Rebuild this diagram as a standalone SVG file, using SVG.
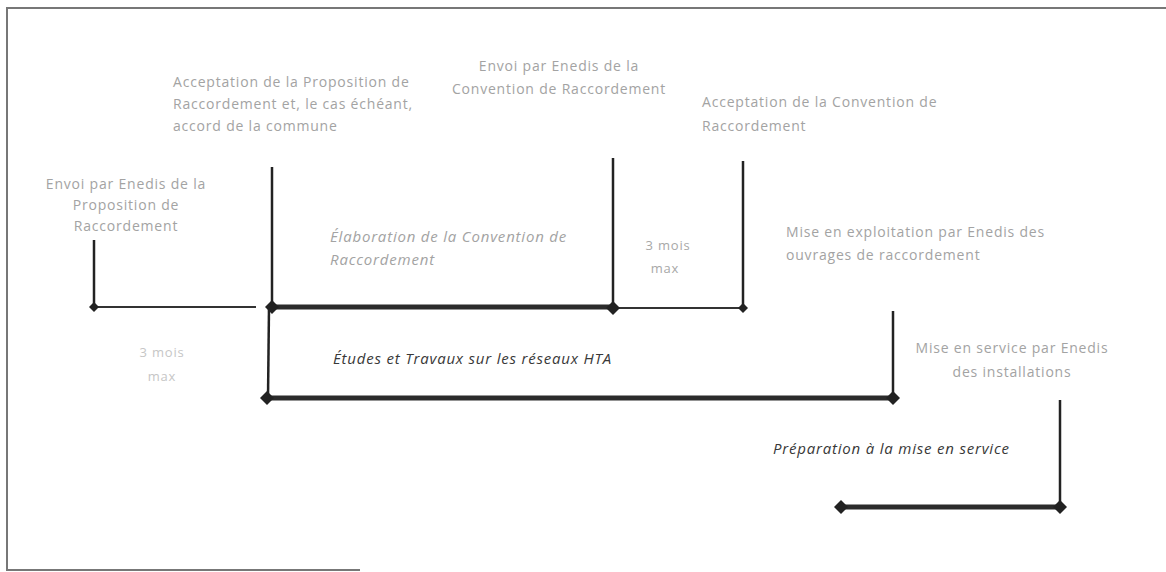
<svg xmlns="http://www.w3.org/2000/svg" width="1166" height="572" viewBox="0 0 1166 572">
<defs>
<style>
.lbl{font-family:"Open Sans","Liberation Sans",sans-serif;font-size:14px;letter-spacing:0.8px;fill:#a3a3a3;}
.sm{font-family:"Open Sans","Liberation Sans",sans-serif;font-size:13px;letter-spacing:0.8px;fill:#a8a8a8;}
.it{font-family:"Open Sans","Liberation Sans",sans-serif;font-size:15px;letter-spacing:0.8px;font-style:italic;fill:#a3a3a3;}
.itd{font-family:"Open Sans","Liberation Sans",sans-serif;font-size:15px;letter-spacing:0.8px;font-style:italic;fill:#383838;}
.thin{stroke:#333;stroke-width:2;fill:none;}
.thick{stroke:#2b2b2b;stroke-width:5;fill:none;}
.vl{stroke:#222;stroke-width:2.5;fill:none;}
.dm{fill:#222;}
</style>
<path id="d" d="M0,-7 L7,0 L0,7 L-7,0 Z"/>
<path id="ds" d="M0,-5 L5,0 L0,5 L-5,0 Z"/>
</defs>
<rect width="1166" height="572" fill="#fff"/>
<g id="frame" stroke="#777" stroke-width="2" fill="none">
<path d="M1166,8 H7 V570 H360"/>
</g>
<g id="connectors">
<line class="vl" x1="94" y1="240" x2="94" y2="307"/>
<line class="thin" x1="94" y1="307" x2="256" y2="307"/>
<line class="vl" x1="272" y1="167" x2="272" y2="307"/>
<line class="vl" x1="269" y1="307" x2="268" y2="398"/>
<line class="thick" x1="272" y1="307" x2="613" y2="307"/>
<line class="vl" x1="613" y1="158" x2="613" y2="307"/>
<line class="thin" x1="613" y1="308" x2="743" y2="308"/>
<line class="vl" x1="743" y1="161" x2="743" y2="308" stroke-width="3.5"/>
<line class="thick" x1="267" y1="398" x2="893" y2="398"/>
<line class="vl" x1="893" y1="311" x2="893" y2="398"/>
<line class="thick" x1="841" y1="507" x2="1060" y2="507"/>
<line class="vl" x1="1060" y1="400" x2="1060" y2="507"/>
<use href="#ds" class="dm" x="94" y="307"/>
<use href="#d" class="dm" x="272" y="307"/>
<use href="#d" class="dm" x="613" y="308"/>
<use href="#ds" class="dm" x="743" y="308"/>
<use href="#d" class="dm" x="267" y="398"/>
<use href="#d" class="dm" x="893" y="398"/>
<use href="#d" class="dm" x="841" y="507"/>
<use href="#d" class="dm" x="1060" y="507"/>
</g>
<g id="n1">
<text class="lbl" x="126" y="189" text-anchor="middle">Envoi par Enedis de la</text>
<text class="lbl" x="126" y="210" text-anchor="middle">Proposition de</text>
<text class="lbl" x="126" y="231" text-anchor="middle">Raccordement</text>
</g>
<g id="n2">
<text class="lbl" x="173" y="87">Acceptation de la Proposition de</text>
<text class="lbl" x="173" y="109">Raccordement et, le cas échéant,</text>
<text class="lbl" x="173" y="131">accord de la commune</text>
</g>
<g id="n3">
<text class="lbl" x="559" y="71" text-anchor="middle">Envoi par Enedis de la</text>
<text class="lbl" x="559" y="94" text-anchor="middle">Convention de Raccordement</text>
</g>
<g id="n4">
<text class="lbl" x="702" y="107">Acceptation de la Convention de</text>
<text class="lbl" x="702" y="131">Raccordement</text>
</g>
<g id="n5">
<text class="it" x="330" y="242">Élaboration de la Convention de</text>
<text class="it" x="330" y="265">Raccordement</text>
</g>
<g id="n6">
<text class="sm" x="668" y="250" text-anchor="middle">3 mois</text>
<text class="sm" x="665" y="273" text-anchor="middle">max</text>
</g>
<g id="n7">
<text class="lbl" x="786" y="237">Mise en exploitation par Enedis des</text>
<text class="lbl" x="786" y="260">ouvrages de raccordement</text>
</g>
<g id="n8">
<text class="sm" x="162" y="357" text-anchor="middle" style="fill:#c6c6c6">3 mois</text>
<text class="sm" x="162" y="381" text-anchor="middle" style="fill:#c6c6c6">max</text>
</g>
<g id="n9">
<text class="itd" x="333" y="364">Études et Travaux sur les réseaux HTA</text>
</g>
<g id="n10">
<text class="lbl" x="1012" y="353" text-anchor="middle">Mise en service par Enedis</text>
<text class="lbl" x="1012" y="377" text-anchor="middle">des installations</text>
</g>
<g id="n11">
<text class="itd" x="773" y="454">Préparation à la mise en service</text>
</g>
</svg>
